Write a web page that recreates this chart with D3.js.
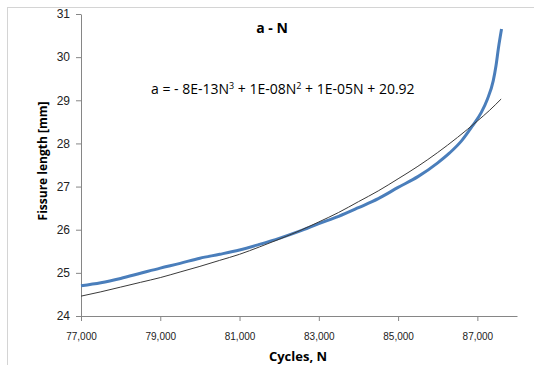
<!DOCTYPE html>
<html>
<head>
<meta charset="utf-8">
<script src="https://cdn.jsdelivr.net/npm/d3@7"></script>
<style>
  body { margin: 0; background: #fff; }
  svg { display: block; font-family: "Open Sans", "Liberation Sans", sans-serif; }
  .tick text { fill: #222; }
</style>
</head>
<body>
<svg id="chart"></svg>
<script>
// measured series (cycles, crack length mm)
const cycles = [77000, 77500, 78000, 78500, 79000, 79500, 80000, 80500, 81000, 81500,
  82000, 82500, 83000, 83500, 84000, 84500, 85000, 85500, 86000, 86300, 86600, 86870,
  87100, 87250, 87400, 87470, 87530, 87610];
const lengths = [24.70, 24.77, 24.87, 24.99, 25.11, 25.22, 25.34, 25.43, 25.53, 25.66,
  25.80, 25.96, 26.14, 26.31, 26.51, 26.72, 26.98, 27.23, 27.55, 27.78, 28.06, 28.40,
  28.72, 29.02, 29.45, 29.80, 30.20, 30.65];

// polynomial trendline
const trendCycles = [77000, 77500, 78000, 78500, 79000, 79500, 80000, 80500, 81000, 81500,
  82000, 82500, 83000, 83500, 84000, 84500, 85000, 85500, 86000, 86500, 87000, 87300, 87600];
const trendLengths = [24.46, 24.56, 24.67, 24.78, 24.89, 25.02, 25.15, 25.29, 25.43, 25.60,
  25.78, 25.97, 26.18, 26.40, 26.65, 26.90, 27.18, 27.47, 27.79, 28.14, 28.52, 28.76, 29.03];

const xTicks = [77000, 79000, 81000, 83000, 85000, 87000];
const yTicks = [24, 25, 26, 27, 28, 29, 30, 31];

const title = 'a - N';
const xLabel = 'Cycles, N';
const yLabel = 'Fissure length [mm]';

const W = 534, H = 365;
const margin = {top: 14, right: 17, bottom: 49, left: 81};
const width = W - margin.left - margin.right,
  height = H - margin.top - margin.bottom;

const svg = d3.select('#chart').attr('width', W).attr('height', H);

// sheet gridlines behind the chart
svg.append('line').attr('x1', 7).attr('x2', W).attr('y1', 7.5).attr('y2', 7.5)
  .attr('stroke', '#d4d4d4');
svg.append('line').attr('x1', 7.5).attr('x2', 7.5).attr('y1', 7).attr('y2', H)
  .attr('stroke', '#d4d4d4');

const g = svg.append('g').attr('transform', 'translate(' + margin.left + ',' + margin.top + ')');

const x = d3.scaleLinear().domain([77000, 88000]).range([0, width]);
const y = d3.scaleLinear().domain([24, 31]).range([height, 0]);

const xAxis = d3.axisBottom(x).tickValues(xTicks).tickSize(5).tickSizeOuter(0)
  .tickFormat(d3.format(',d'));
const yAxis = d3.axisLeft(y).tickValues(yTicks).tickSize(5).tickSizeOuter(0)
  .tickFormat(d3.format('d'));

const gx = g.append('g').attr('transform', 'translate(0,' + height + ')').call(xAxis);
gx.selectAll('text').attr('dy', 0).attr('y', 24).style('font-size', '10px');
const gy = g.append('g').call(yAxis);
gy.selectAll('text').attr('x', -11).style('font-size', '12px');
g.selectAll('.domain, .tick line').attr('stroke', '#868686');

const line = d3.line().x(d => x(d[0])).y(d => y(d[1])).curve(d3.curveMonotoneX);

g.append('path')
  .datum(cycles.map((c, i) => [c, lengths[i]]))
  .attr('fill', 'none')
  .attr('stroke', '#4a7ebb')
  .attr('stroke-width', 3)
  .attr('d', line);

g.append('path')
  .datum(trendCycles.map((c, i) => [c, trendLengths[i]]))
  .attr('fill', 'none')
  .attr('stroke', '#3a3a3a')
  .attr('stroke-width', 1)
  .attr('d', line);

svg.append('text').attr('x', 272).attr('y', 33).attr('text-anchor', 'middle')
  .style('font-size', '14px').style('font-weight', 'bold').text(title);

const eq = svg.append('text').attr('x', 151).attr('y', 94).style('font-size', '14px');
eq.append('tspan').text('a =  - 8E-13N');
eq.append('tspan').attr('dy', -5).style('font-size', '9px').text('3');
eq.append('tspan').attr('dy', 5).text(' + 1E-08N');
eq.append('tspan').attr('dy', -5).style('font-size', '9px').text('2');
eq.append('tspan').attr('dy', 5).text(' + 1E-05N + 20.92');

svg.append('text').attr('x', 298).attr('y', 361).attr('text-anchor', 'middle')
  .style('font-size', '13px').style('font-weight', 'bold').text(xLabel);

svg.append('text').attr('transform', 'translate(47,161) rotate(-90)')
  .attr('text-anchor', 'middle')
  .style('font-size', '12px').style('font-weight', 'bold').text(yLabel);
</script>
</body>
</html>
